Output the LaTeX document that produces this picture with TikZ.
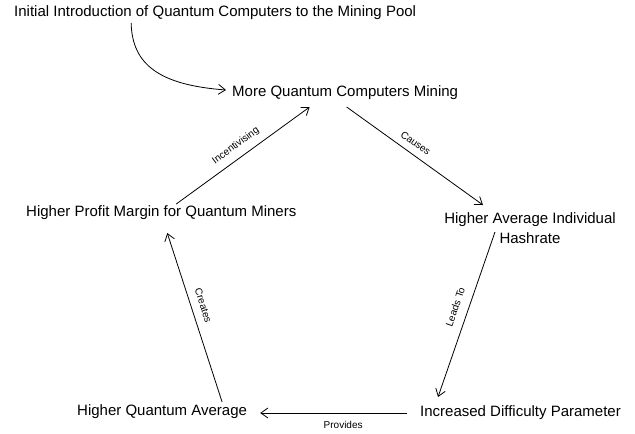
\documentclass[tikz,border=0pt]{standalone}
\usepackage{fontspec}
\setmainfont{Liberation Sans}
\usetikzlibrary{arrows.meta,calc}
\tikzset{
  box/.style={inner sep=0pt, font=\fontsize{15}{20}\selectfont},
  lbl/.style={inner sep=0pt, font=\fontsize{10}{12}\selectfont},
  link/.style={draw, line width=0.8pt, -{Straight Barb[length=7pt,width=10pt,line width=0.8pt]}}
}
\begin{document}
\begin{tikzpicture}[x=1pt,y=-1pt]
\useasboundingbox (0,0) rectangle (635,434);
\node[box, anchor=west] (init) at (14,13) {Initial Introduction of Quantum Computers to the Mining Pool};
\node[box, anchor=west] (more) at (232,93) {More Quantum Computers Mining};
\node[box, align=center] (hai) at (530,228) {Higher Average Individual\\Hashrate};
\node[box, anchor=west] (hpm) at (26,213) {Higher Profit Margin for Quantum Miners};
\node[box, anchor=west] (hqa) at (77,412) {Higher Quantum Average};
\node[box, anchor=west] (idp) at (420,413) {Increased Difficulty Parameter};

\draw[link] ($(init.center)+(-84,10)$) .. controls ($(init.center)+(-83,52)$) and ($(more.west)+(-72,-8)$) .. ($(more.west)+(-6,-3)$);
\draw[link] ($(hpm.center)+(15,-9)$) -- node[lbl, sloped, pos=0.5, above=7pt] {Incentivising} ($(more.center)+(-35.5,14)$);
\draw[link] ($(more.center)+(1.5,14)$) -- node[lbl, sloped, pos=0.46, above=7pt] {Causes} ($(hai.center)+(-47,-23)$);
\draw[link] ($(hai.center)+(-35,4)$) -- node[lbl, sloped, pos=0.48, above=9pt] {Leads To} ($(idp.center)+(-82.5,-16)$);
\draw[link] ($(idp.west)+(-13,0)$) -- node[lbl, pos=0.435, below=8pt] {Provides} ($(hqa.east)+(13,1)$);
\draw[link] ($(hqa.center)+(60,-10)$) -- node[lbl, sloped, pos=0.55, above=8pt] {Creates} ($(hpm.center)+(6,20)$);
\end{tikzpicture}
\end{document}
